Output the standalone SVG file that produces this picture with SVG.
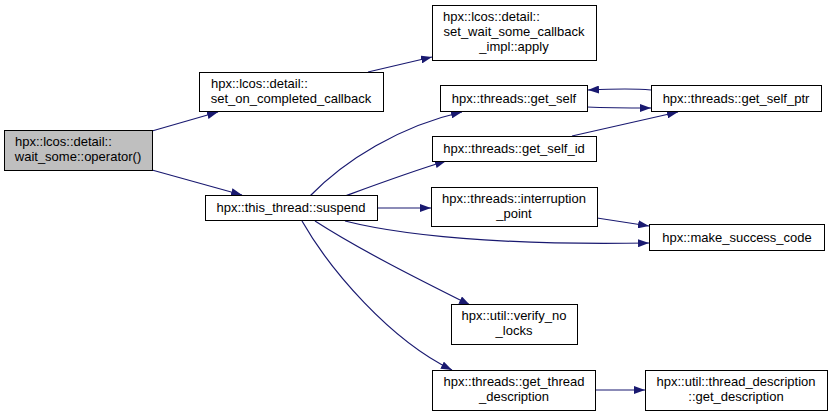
<svg xmlns="http://www.w3.org/2000/svg" width="833" height="417" viewBox="0 0 833 417">
<defs>
<style>
.n rect{fill:#fff;stroke:#000;stroke-width:1}
.n.root rect{fill:#bfbfbf}
.n text{font-family:"Liberation Sans",Arial,sans-serif;font-size:13px;fill:#000;text-anchor:middle}
.n text.l{text-anchor:start}
.e path{fill:none;stroke:#191970;stroke-width:1.2}
</style>
<marker id="ah" markerUnits="userSpaceOnUse" markerWidth="11" markerHeight="8" refX="11" refY="4" orient="auto">
<path d="M0,0 L11,4 L0,8 z" fill="#191970"/>
</marker>
</defs>
<rect width="833" height="417" fill="#fff"/>
<g id="edges" class="e">
<path d="M152,131 L218,112" marker-end="url(#ah)"/>
<path d="M152,170 L242,195" marker-end="url(#ah)"/>
<path d="M368,72 L432,57" marker-end="url(#ah)"/>
<path d="M310,196 C345,160 400,126 462,112" marker-end="url(#ah)"/>
<path d="M345,196 C375,185 410,172 446,161" marker-end="url(#ah)"/>
<path d="M377,208 L431,208" marker-end="url(#ah)"/>
<path d="M345,221 C420,240 540,245 649,243" marker-end="url(#ah)"/>
<path d="M315,221 C360,250 420,280 470,305" marker-end="url(#ah)"/>
<path d="M302,221 C330,270 390,340 452,370" marker-end="url(#ah)"/>
<path d="M587,107 C610,108 630,108 651,108" marker-end="url(#ah)"/>
<path d="M651,90 C630,88 610,89 588,90" marker-end="url(#ah)"/>
<path d="M572,136 L678,112" marker-end="url(#ah)"/>
<path d="M597,218 L649,226" marker-end="url(#ah)"/>
<path d="M595,390 L645,390" marker-end="url(#ah)"/>
</g>
<g id="n_wait_some" class="n root"><rect x="4.5" y="130.5" width="148" height="40"/><text class="l" x="15" y="146">hpx::lcos::detail::</text><text x="78" y="161">wait_some::operator()</text></g>
<g id="n_set_on_completed" class="n"><rect x="199.5" y="72.5" width="184" height="39"/><text class="l" x="211" y="88">hpx::lcos::detail::</text><text x="291" y="103">set_on_completed_callback</text></g>
<g id="n_apply" class="n"><rect x="432.5" y="5.5" width="164" height="55"/><text class="l" x="443" y="21">hpx::lcos::detail::</text><text x="514" y="36">set_wait_some_callback</text><text x="514" y="51">_impl::apply</text></g>
<g id="n_suspend" class="n"><rect x="205.5" y="195.5" width="172" height="25"/><text x="291" y="212">hpx::this_thread::suspend</text></g>
<g id="n_get_self" class="n"><rect x="440.5" y="85.5" width="147" height="26"/><text x="514" y="103">hpx::threads::get_self</text></g>
<g id="n_get_self_ptr" class="n"><rect x="651.5" y="85.5" width="170" height="26"/><text x="736" y="103">hpx::threads::get_self_ptr</text></g>
<g id="n_get_self_id" class="n"><rect x="432.5" y="136.5" width="164" height="25"/><text x="514" y="153">hpx::threads::get_self_id</text></g>
<g id="n_interruption" class="n"><rect x="431.5" y="187.5" width="166" height="39"/><text x="514" y="203">hpx::threads::interruption</text><text x="514" y="218">_point</text></g>
<g id="n_make_success" class="n"><rect x="649.5" y="224.5" width="175" height="26"/><text x="737" y="242">hpx::make_success_code</text></g>
<g id="n_verify" class="n"><rect x="451.5" y="304.5" width="126" height="40"/><text x="514" y="320">hpx::util::verify_no</text><text x="514" y="335">_locks</text></g>
<g id="n_get_thread_desc" class="n"><rect x="432.5" y="370.5" width="163" height="40"/><text x="514" y="386">hpx::threads::get_thread</text><text x="514" y="401">_description</text></g>
<g id="n_get_description" class="n"><rect x="645.5" y="370.5" width="182" height="40"/><text x="736" y="386">hpx::util::thread_description</text><text x="736" y="401">::get_description</text></g>
</svg>
